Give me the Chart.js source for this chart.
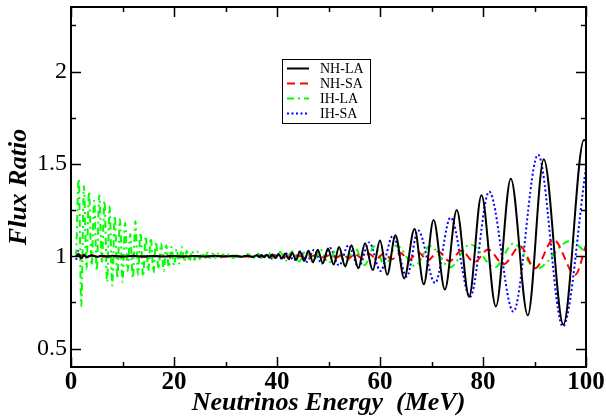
<!DOCTYPE html>
<html>
<head>
<meta charset="utf-8">
<script src="https://cdn.jsdelivr.net/npm/chart.js@4.4.0/dist/chart.umd.min.js"></script>
<style>
  html, body { margin: 0; padding: 0; background: #fff; }
  #wrap { width: 606px; height: 419px; }
</style>
</head>
<body>
<div id="wrap"><canvas id="fluxChart" width="606" height="419"></canvas></div>
<script>
// Flux ratio vs neutrino energy

// NH-LA (black, solid)
const nhlaE = [1, 1.5, 2, 2.5, 3, 4, 5, 6, 7, 8, 10, 12, 14, 16, 18, 20, 22, 24, 26, 28,
  30, 31.5, 33, 34.2, 35.2, 36.1, 36.55, 37.0, 37.5, 38.0, 38.55, 39.1, 39.7, 40.3, 40.95,
  41.6, 42.3, 42.95, 43.7, 44.45, 45.3, 46.1, 47.0, 47.9, 48.9, 49.9, 51.0, 52.05, 53.25,
  54.45, 55.8, 57.1, 58.6, 60.0, 61.4, 63.0, 64.7, 66.7, 68.5, 70.4, 72.6, 74.9, 77.3,
  79.7, 82.5, 85.4, 88.7, 91.8, 95.6, 99.6, 100];
const nhlaR = [1.0, 1.012, 0.988, 1.006, 0.996, 1.004, 0.997, 1.003, 0.998, 1.002, 0.998,
  1.002, 0.999, 1.001, 0.999, 1.001, 0.999, 1.001, 0.999, 1.002, 0.998, 1.002, 0.997, 1.003,
  0.996, 1.005, 0.995, 1.006, 0.994, 1.008, 0.992, 1.010, 0.990, 1.012, 0.988, 1.015, 0.984,
  1.019, 0.980, 1.024, 0.975, 1.030, 0.968, 1.035, 0.962, 1.042, 0.955, 1.050, 0.945, 1.060,
  0.935, 1.070, 0.925, 1.085, 0.900, 1.114, 0.880, 1.147, 0.848, 1.196, 0.820, 1.250, 0.780,
  1.330, 0.728, 1.420, 0.680, 1.525, 0.630, 1.630, 1.625];

// NH-SA (red, dashed)
const nhsaE = [1, 2, 3, 4, 6, 8, 10, 12, 14, 16, 18, 20, 22, 24, 26, 28, 30, 32, 34, 36, 38,
  40, 42, 44, 46, 47.5, 49.0, 50.4, 51.5, 52.7, 53.9, 55.2, 56.5, 57.9, 59.3, 60.8, 62.3,
  63.9, 65.6, 67.4, 69.3, 71.3, 73.5, 75.8, 78.3, 81.0, 84.0, 87.2, 90.1, 93.7, 97.9, 100];
const nhsaR = [1.0, 1.004, 0.995, 1.004, 0.997, 1.003, 0.998, 1.002, 0.998, 1.002, 0.999,
  1.001, 0.999, 1.001, 0.999, 1.001, 0.999, 1.001, 0.999, 1.001, 0.999, 1.002, 0.998, 1.003,
  0.996, 1.005, 0.994, 1.007, 0.992, 1.009, 0.990, 1.011, 0.988, 1.013, 0.986, 1.016, 0.983,
  1.019, 0.980, 1.022, 0.977, 1.026, 0.973, 1.030, 0.968, 1.036, 0.957, 1.054, 0.935, 1.090,
  0.900, 1.060];

// IH-LA (green, dash-dot)
const ihlaE = [1.0, 1.5, 2.0, 2.5, 3.0, 3.5, 4.0, 4.5, 5.0, 5.5, 6.0, 6.5, 7.0, 7.5, 8.0, 8.5,
  9.0, 9.5, 10.0, 10.5, 11.0, 11.5, 12.0, 12.5, 13.0, 13.5, 14.0, 14.5, 15.0, 15.5, 16.0,
  16.5, 17.0, 17.5, 18.0, 18.5, 19.0, 19.5, 20.0, 20.5, 21.0, 21.5, 22.0, 22.5, 23.0, 23.5,
  24.0, 24.5, 25.0, 25.5, 26.0, 26.5, 27.0, 27.5, 28.0, 28.5, 29.0, 29.5, 30.0, 30.7, 31.5,
  32.5, 33.5, 34.4, 35.3, 36.3, 37.3, 38.4, 39.5, 40.6, 41.8, 43.0, 44.3, 45.6, 47.0, 48.4,
  50.0, 51.6, 53.3, 55.1, 57.0, 58.9, 61.0, 63.2, 66.8, 69.7, 73.6, 77.5, 82.3, 85.9, 90.4,
  96.9, 100];
const ihlaR = [1.00, 1.42, 0.73, 1.38, 0.93, 1.35, 0.95, 1.30, 0.92, 1.33, 0.97, 1.30, 0.86,
  1.27, 0.84, 1.22, 0.88, 1.20, 0.86, 1.18, 0.92, 1.12, 0.88, 1.19, 0.90, 1.13, 0.89, 1.11,
  0.92, 1.10, 0.91, 1.08, 0.93, 1.07, 0.92, 1.06, 0.94, 1.05, 0.95, 1.04, 0.96, 1.05, 0.97,
  1.03, 0.97, 1.03, 0.98, 1.025, 0.985, 1.02, 0.985, 1.02, 0.99, 1.015, 0.99, 1.015, 0.99,
  1.01, 0.995, 1.01, 0.99, 1.01, 0.99, 1.012, 0.987, 1.015, 0.985, 1.018, 0.982, 1.023,
  0.977, 1.027, 0.972, 1.032, 0.967, 1.037, 0.962, 1.043, 0.957, 1.048, 0.952, 1.054, 0.948,
  1.060, 0.947, 1.055, 0.940, 1.065, 0.940, 1.069, 0.933, 1.083, 1.020];

// IH-SA (blue, dotted)
const ihsaE = [1, 1.3, 1.6, 2, 2.5, 3, 4, 5, 6, 8, 10, 12, 14, 16, 18, 20, 22, 24, 26, 28, 30,
  32, 34, 35.5, 36.3, 37.15, 38.05, 39.0, 40.0, 41.05, 42.15, 43.3, 44.5, 45.8, 47.2, 48.7,
  50.3, 52.05, 53.9, 55.85, 57.9, 60.1, 62.5, 65.2, 67.4, 70.7, 73.7, 77.5, 81.2, 85.9, 90.7,
  95.5, 100];
const ihsaR = [0.98, 1.03, 1.0, 0.99, 1.01, 0.995, 1.006, 0.996, 1.004, 0.997, 1.003, 0.998,
  1.002, 0.998, 1.002, 0.999, 1.001, 0.999, 1.001, 0.999, 1.001, 0.998, 1.002, 0.996, 1.006,
  0.992, 1.010, 0.988, 1.015, 0.983, 1.020, 0.977, 1.027, 0.970, 1.035, 0.960, 1.045, 0.950,
  1.060, 0.940, 1.075, 0.920, 1.110, 0.890, 1.140, 0.855, 1.210, 0.780, 1.350, 0.700, 1.550,
  0.620, 1.480];

const seriesNames = ['NH-LA', 'NH-SA', 'IH-LA', 'IH-SA'];

// axis ticks
const xMajor = [0, 20, 40, 60, 80, 100];
const xMinor = [10, 30, 50, 70, 90];
const yMajor = [0.5, 1, 1.5, 2];
const yMinor = [0.75, 1.25, 1.75, 2.25];

const SERIF = "'Liberation Serif', 'Times New Roman', serif";

function toPoints(es, rs) {
    return es.map((e, i) => ({ x: e, y: rs[i] }));
}

// frame with inward ticks on all four sides + boxed legend
const frameAndLegend = {
    id: 'frameAndLegend',
    afterDatasetsDraw(chart) {
        const ctx = chart.ctx;
        const a = chart.chartArea;
        const xs = chart.scales.x;
        const ys = chart.scales.y;
        ctx.save();
        ctx.strokeStyle = '#000';
        ctx.setLineDash([]);
        ctx.lineWidth = 2;
        ctx.strokeRect(a.left, a.top, a.right - a.left, a.bottom - a.top);

        ctx.lineWidth = 1.5;
        const tick = (x1, y1, x2, y2) => {
            ctx.beginPath();
            ctx.moveTo(x1, y1);
            ctx.lineTo(x2, y2);
            ctx.stroke();
        };
        xMajor.forEach(v => {
            const px = Math.round(xs.getPixelForValue(v)) + 0.5;
            tick(px, a.bottom, px, a.bottom - 10);
            tick(px, a.top, px, a.top + 10);
        });
        xMinor.forEach(v => {
            const px = Math.round(xs.getPixelForValue(v)) + 0.5;
            tick(px, a.bottom, px, a.bottom - 5);
            tick(px, a.top, px, a.top + 5);
        });
        yMajor.forEach(v => {
            const py = Math.round(ys.getPixelForValue(v)) + 0.5;
            tick(a.left, py, a.left + 10, py);
            tick(a.right, py, a.right - 10, py);
        });
        yMinor.forEach(v => {
            const py = Math.round(ys.getPixelForValue(v)) + 0.5;
            tick(a.left, py, a.left + 5, py);
            tick(a.right, py, a.right - 5, py);
        });

        // legend box
        const bx = 282.5, by = 59.5, bw = 88, bh = 64;
        ctx.lineWidth = 1;
        ctx.strokeRect(bx, by, bw, bh);
        ctx.font = '14px ' + SERIF;
        ctx.textBaseline = 'middle';
        ctx.textAlign = 'left';
        chart.data.datasets.forEach((ds, i) => {
            const y = 68.5 + i * 15;
            ctx.strokeStyle = ds.borderColor;
            ctx.lineWidth = ds.borderWidth;
            ctx.setLineDash(ds.borderDash || []);
            tick(287, y, 309, y);
            ctx.setLineDash([]);
            ctx.fillStyle = '#000';
            ctx.fillText(ds.label, 320, y + 1);
        });
        ctx.restore();
    }
};

const ctx = document.getElementById('fluxChart');

new Chart(ctx, {
    type: 'line',
    data: {
        datasets: [
            {
                label: seriesNames[0],
                data: toPoints(nhlaE, nhlaR),
                borderColor: '#000000',
                borderWidth: 2
            },
            {
                label: seriesNames[1],
                data: toPoints(nhsaE, nhsaR),
                borderColor: '#ff0000',
                borderWidth: 2,
                borderDash: [8, 5]
            },
            {
                label: seriesNames[2],
                data: toPoints(ihlaE, ihlaR),
                borderColor: '#00ff00',
                borderWidth: 2,
                borderDash: [7, 4, 2, 4]
            },
            {
                label: seriesNames[3],
                data: toPoints(ihsaE, ihsaR),
                borderColor: '#0000ff',
                borderWidth: 2,
                borderDash: [2, 2.5]
            }
        ]
    },
    options: {
        responsive: false,
        animation: false,
        devicePixelRatio: 1,
        layout: {
            padding: { top: 7, right: 20, left: 0, bottom: 0 }
        },
        elements: {
            point: { radius: 0 },
            line: { cubicInterpolationMode: 'monotone', fill: false }
        },
        scales: {
            x: {
                type: 'linear',
                min: 0,
                max: 100,
                grid: { display: false, drawTicks: false },
                border: { display: false },
                afterBuildTicks: s => { s.ticks = xMajor.map(v => ({ value: v })); },
                afterFit: s => {
                    s.height = 52;
                    s.paddingLeft = 0;
                    s.paddingRight = 0;
                },
                ticks: {
                    autoSkip: false,
                    maxRotation: 0,
                    padding: 1,
                    color: '#000',
                    font: { family: SERIF, size: 25, weight: 'bold' }
                },
                title: {
                    display: true,
                    text: 'Neutrinos Energy  (MeV)',
                    color: '#000',
                    padding: { top: 0, bottom: 0 },
                    font: { family: SERIF, size: 26, weight: 'bold', style: 'italic' }
                }
            },
            y: {
                type: 'linear',
                min: 0.4,
                max: 2.35,
                grid: { display: false, drawTicks: false },
                border: { display: false },
                afterBuildTicks: s => { s.ticks = yMajor.map(v => ({ value: v })); },
                afterFit: s => {
                    s.width = 71;
                    s.paddingTop = 0;
                    s.paddingBottom = 0;
                },
                ticks: {
                    autoSkip: false,
                    padding: 4,
                    color: '#000',
                    font: { family: SERIF, size: 24 },
                    callback: v => String(v)
                },
                title: {
                    display: true,
                    text: 'Flux Ratio',
                    color: '#000',
                    padding: { top: 4, bottom: 0 },
                    font: { family: SERIF, size: 26, weight: 'bold', style: 'italic' }
                }
            }
        },
        plugins: {
            legend: { display: false },
            tooltip: { enabled: false }
        }
    },
    plugins: [frameAndLegend]
});
</script>
</body>
</html>
